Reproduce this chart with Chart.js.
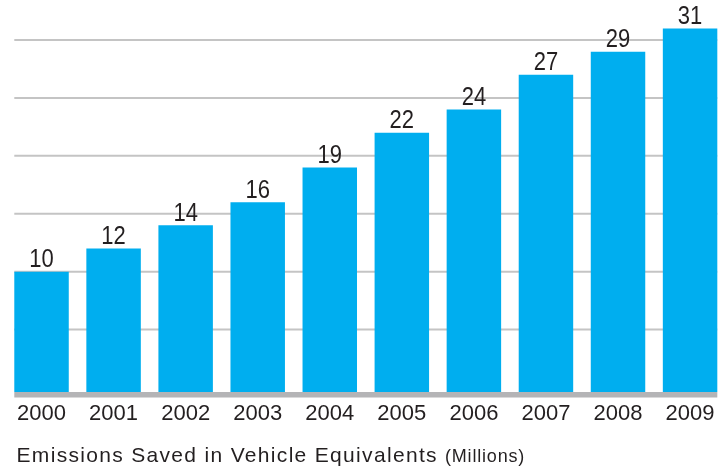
<!DOCTYPE html>
<html>
<head>
<meta charset="utf-8">
<script src="https://cdn.jsdelivr.net/npm/chart.js@4"></script>
<style>
  html, body { margin: 0; padding: 0; background: #ffffff; overflow: hidden; width: 724px; height: 467px; }
  #wrap { position: relative; width: 724px; height: 467px; overflow: hidden; }
  #c { position: absolute; left: 0; top: 0; }
  #caption {
    position: absolute; left: 16.5px; top: 444px;
    font-family: 'Liberation Sans', Arial, sans-serif;
    font-size: 21px; line-height: 21px; letter-spacing: 1.32px;
    color: #231f20; white-space: nowrap;
  }
  #caption span { font-size: 18px; letter-spacing: 0.8px; }
</style>
</head>
<body>
<div id="wrap">
  <canvas id="c" width="727" height="467"></canvas>
  <div id="caption">Emissions Saved in Vehicle Equivalents <span>(Millions)</span></div>
</div>
<script>
const years = ['2000','2001','2002','2003','2004','2005','2006','2007','2008','2009'];
const savedMillions = [10, 12, 14, 16, 19, 22, 24, 27, 29, 31];
const gridValues = [5, 10, 15, 20, 25, 30];

const FONT = "'Liberation Sans', Arial, sans-serif";
const TEXT = '#231f20';
const BAR = '#00aeef';
const BASE = -0.39;

const decorPlugin = {
  id: 'decor',
  beforeDatasetsDraw(chart) {
    const ctx = chart.ctx;
    const y = chart.scales.y;
    const bars = chart.getDatasetMeta(0).data;
    const x0 = bars[0].x - bars[0].width / 2;
    const x1 = bars[bars.length - 1].x + bars[bars.length - 1].width / 2;
    ctx.save();
    ctx.strokeStyle = '#c4c4c4';
    ctx.lineWidth = 2;
    gridValues.forEach(v => {
      const py = y.getPixelForValue(v);
      ctx.beginPath();
      ctx.moveTo(x0, py);
      ctx.lineTo(x1, py);
      ctx.stroke();
    });
    ctx.restore();
  },
  afterDatasetsDraw(chart) {
    const ctx = chart.ctx;
    const y = chart.scales.y;
    const bars = chart.getDatasetMeta(0).data;
    const x0 = bars[0].x - bars[0].width / 2;
    const x1 = bars[bars.length - 1].x + bars[bars.length - 1].width / 2;
    ctx.save();
    ctx.fillStyle = '#b4b4b6';
    const by = y.getPixelForValue(BASE);
    ctx.fillRect(x0, by, x1 - x0, 5.5);
    ctx.fillStyle = TEXT;
    ctx.font = '25px ' + FONT;
    ctx.textAlign = 'center';
    ctx.textBaseline = 'alphabetic';
    bars.forEach((el, i) => {
      ctx.save();
      ctx.translate(el.x, el.y - 4.5);
      ctx.scale(0.88, 1);
      ctx.fillText(String(savedMillions[i]), 0, 0);
      ctx.restore();
    });
    ctx.restore();
  }
};

new Chart(document.getElementById('c'), {
  type: 'bar',
  data: {
    labels: years,
    datasets: [{
      data: savedMillions,
      backgroundColor: BAR,
      borderWidth: 0,
      base: BASE,
      barPercentage: 0.756,
      categoryPercentage: 1.0
    }]
  },
  options: {
    responsive: false,
    animation: false,
    events: [],
    layout: { padding: { left: 5.5, right: 0.9, top: 0, bottom: 30.6 } },
    plugins: { legend: { display: false }, tooltip: { enabled: false }, title: { display: false } },
    scales: {
      x: {
        offset: true,
        grid: { display: false, drawTicks: false },
        border: { display: false },
        ticks: { color: TEXT, font: { family: FONT, size: 22 }, padding: 9, maxRotation: 0, autoSkip: false }
      },
      y: {
        display: false,
        min: BASE,
        max: 33.46
      }
    }
  },
  plugins: [decorPlugin]
});
</script>
</body>
</html>
